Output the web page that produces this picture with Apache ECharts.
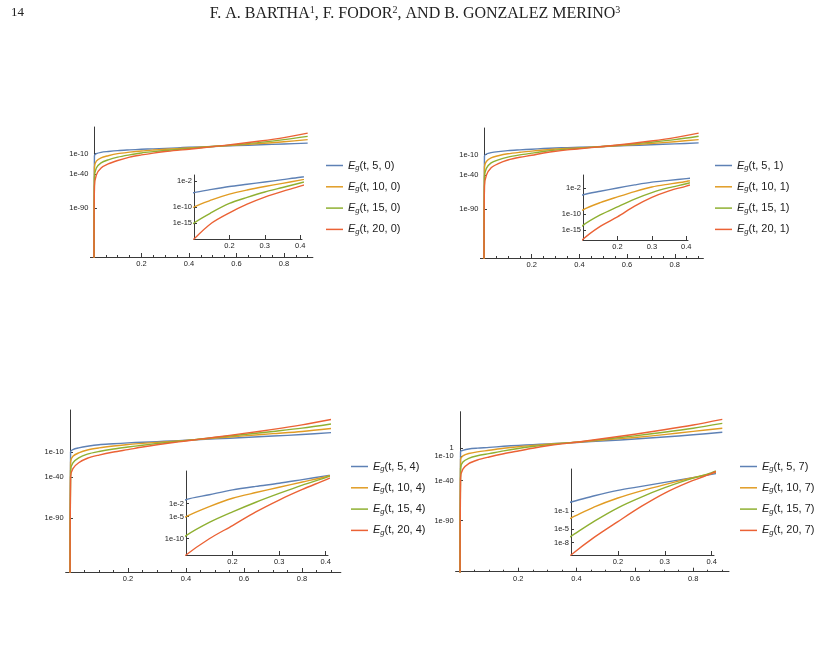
<!DOCTYPE html>
<html>
<head>
<meta charset="utf-8">
<script src="https://cdn.jsdelivr.net/npm/echarts@6/dist/echarts.min.js"></script>
<style>
  * { margin: 0; padding: 0; }
  body { background: #fff; }
</style>
</head>
<body>
<div id="main" style="width: 818px;height: 672px;"></div>
<script>
// t values shared by every curve
var ts = [0, 0.002, 0.01, 0.03, 0.06, 0.1, 0.15, 0.2, 0.25, 0.3, 0.35, 0.4, 0.5, 0.6, 0.7, 0.8, 0.9];

// curves as log10 of E_g(t, n, k) (-200 stands for "drops to 0")
var eg5_0  = [-200, -13, -10, -8, -6.8, -5.5, -4.5, -3.6, -2.9, -2.2, -1.45, -0.7, 0.6, 1.8, 3, 4.2, 5.5];
var eg10_0 = [-200, -30, -21, -16, -13, -10, -7.8, -6, -4.7, -3.6, -2.6, -1.6, 0.5, 2.5, 4.8, 7.4, 10.5];
var eg15_0 = [-200, -45, -31, -23.5, -19, -15, -11.7, -8.9, -7, -5.3, -3.9, -2.5, 0.4, 3.3, 6.5, 10.5, 15.3];
var eg20_0 = [-200, -58, -41, -31, -25, -20, -15, -11.8, -9.1, -6.9, -5.1, -3.5, 0.3, 4.2, 8.5, 13.5, 20];

var eg5_1  = [-200, -12, -9, -7, -5.5, -4.1, -3, -2, -1.05, -0.2, 0.35, 0.9, 2, 3.2, 4.5, 5.8, 7.2];
var eg10_1 = [-200, -28, -20, -14.5, -11.5, -8.7, -6.5, -4.75, -3.1, -1.7, -0.8, 0, 2, 4, 6.3, 9, 12];
var eg15_1 = [-200, -43, -30, -22, -17.5, -13.5, -10.3, -7.8, -5.4, -3.4, -1.9, -0.7, 2, 4.9, 8.2, 12, 17];
var eg20_1 = [-200, -56, -40, -29, -23, -17.8, -13.8, -10.9, -7.6, -4.9, -2.9, -1.4, 2, 5.7, 10, 15, 21.5];

var eg5_4  = [-200, -9.6, -7, -5, -3, -1.1, 0, 1.1, 1.9, 2.6, 3.45, 4.3, 6, 7.6, 9.4, 11.2, 13.5];
var eg10_4 = [-200, -22, -15, -11, -7.5, -5, -2.7, -0.8, 0.5, 1.7, 2.9, 4.1, 7, 9.6, 12.3, 15, 18.5];
var eg15_4 = [-200, -32, -23, -17, -12.5, -9.3, -6.3, -3.9, -1.7, 0.3, 2.2, 3.9, 7.6, 11.2, 15, 19, 24];
var eg20_4 = [-200, -40, -30, -23, -17.5, -13.7, -10, -7, -3.9, -1.2, 1.2, 3.4, 8, 12.6, 17.5, 23, 29.5];

var eg5_7  = [-200, -4, -2.5, -0.8, 0.2, 1.1, 2.5, 3.7, 4.6, 5.5, 6.4, 7.3, 9.3, 11.5, 14, 16.8, 20];
var eg10_7 = [-200, -13.6, -9.5, -6.5, -4.4, -2.5, 0, 2, 3.6, 5, 6.3, 7.5, 10.5, 13.5, 17, 21, 25];
var eg15_7 = [-200, -24.7, -17, -12.5, -9.3, -6.6, -3.2, -0.2, 2.2, 4.3, 6.1, 7.7, 11.5, 15.5, 20, 25, 31];
var eg20_7 = [-200, -37, -26, -19, -14.5, -10.8, -6.8, -3.3, 0.1, 3.1, 5.5, 7.5, 12.5, 17.5, 23, 29, 36];

// tick labels
var mainXLabels = [0.2, 0.4, 0.6, 0.8];
var mainXMinor = [0.05, 0.1, 0.15, 0.25, 0.3, 0.35, 0.45, 0.5, 0.55, 0.65, 0.7, 0.75, 0.85, 0.9];
var insetXLabels = [0.2, 0.3, 0.4];
var mainYLabels = [-10, -40, -90];
var mainYLabels7 = [0, -10, -40, -90];
var insetYLabels0 = [-2, -10, -15];
var insetYLabels1 = [-2, -10, -15];
var insetYLabels4 = [-2, -5, -10];
var insetYLabels7 = [-1, -5, -8];

var colors = ['#5E81B5', '#E19C24', '#8FB032', '#EB6235'];
var axisColor = '#3a3a3a';
var labelColor = '#222';
var sans = '"Liberation Sans", Arial, sans-serif';

var panels = [
  {k: '0', curves: [eg5_0, eg10_0, eg15_0, eg20_0],
   main: {left: 90.4, top: 127, width: 222.5, height: 130, xMax: 0.922, yMin: -161, yMax: 29, yLabels: mainYLabels},
   inset: {left: 194, top: 175, width: 108, height: 64, yMin: -20, yMax: 0, yLabels: insetYLabels0},
   legend: {left: 326, top: 160}},
  {k: '1', curves: [eg5_1, eg10_1, eg15_1, eg20_1],
   main: {left: 480.4, top: 128, width: 223, height: 130, xMax: 0.92, yMin: -161, yMax: 29, yLabels: mainYLabels},
   inset: {left: 583, top: 175, width: 105, height: 65, yMin: -18, yMax: 2, yLabels: insetYLabels1},
   legend: {left: 715, top: 160}},
  {k: '4', curves: [eg5_4, eg10_4, eg15_4, eg20_4],
   main: {left: 65.65, top: 410, width: 275.2, height: 162, xMax: 0.934, yMin: -155.5, yMax: 41, yLabels: mainYLabels},
   inset: {left: 186, top: 471, width: 142, height: 84, yMin: -13.7, yMax: 5.4, yLabels: insetYLabels4},
   legend: {left: 351, top: 461}},
  {k: '7', curves: [eg5_7, eg10_7, eg15_7, eg20_7],
   main: {left: 455.6, top: 411.7, width: 273.4, height: 160, xMax: 0.923, yMin: -153.4, yMax: 45.5, yLabels: mainYLabels7},
   inset: {left: 571, top: 469, width: 143, height: 86, yMin: -10.8, yMax: 8.5, yLabels: insetYLabels7},
   legend: {left: 740, top: 461}}
];
var ns = ['5', '10', '15', '20'];

function yFmt(v) {
  return v === 0 ? '1' : '1e' + v;
}

var grids = [], xAxes = [], yAxes = [], series = [], legends = [];

panels.forEach(function (p) {
  var names = ns.map(function (n) { return n + ', ' + p.k; });
  var pairs = p.curves.map(function (c) {
    return ts.map(function (t, i) { return [t, c[i]]; });
  });

  // main plot: grid, major x axis, minor x ticks, y axis
  var gMain = grids.length;
  grids.push({left: p.main.left, top: p.main.top, width: p.main.width, height: p.main.height});
  var xMajor = xAxes.length;
  xAxes.push({
    gridIndex: gMain, type: 'value', min: -0.015, max: p.main.xMax, position: 'bottom',
    axisLine: {onZero: false, lineStyle: {color: axisColor, width: 1}},
    axisTick: {customValues: mainXLabels, inside: true, length: 4, lineStyle: {color: axisColor}},
    axisLabel: {customValues: mainXLabels, fontSize: 7.5, color: labelColor, fontFamily: sans, margin: 3},
    splitLine: {show: false}
  });
  xAxes.push({
    gridIndex: gMain, type: 'value', min: -0.015, max: p.main.xMax, position: 'bottom',
    axisLine: {show: false, onZero: false},
    axisTick: {customValues: mainXMinor, inside: true, length: 2, lineStyle: {color: axisColor}},
    axisLabel: {show: false},
    splitLine: {show: false}
  });
  var yMain = yAxes.length;
  yAxes.push({
    gridIndex: gMain, type: 'value', min: p.main.yMin, max: p.main.yMax,
    axisLine: {show: true, onZero: true, onZeroAxisIndex: xMajor, lineStyle: {color: axisColor, width: 1}},
    axisTick: {show: true, customValues: p.main.yLabels, inside: true, length: 3, lineStyle: {color: axisColor}},
    axisLabel: {customValues: p.main.yLabels, formatter: yFmt, fontSize: 7.5, color: labelColor, fontFamily: sans, margin: 2},
    splitLine: {show: false}
  });

  // inset
  var gIn = grids.length;
  grids.push({left: p.inset.left, top: p.inset.top, width: p.inset.width, height: p.inset.height});
  var xIn = xAxes.length;
  xAxes.push({
    gridIndex: gIn, type: 'value', min: 0.1, max: 0.405, position: 'bottom',
    axisLine: {onZero: false, lineStyle: {color: axisColor, width: 1}},
    axisTick: {customValues: insetXLabels, inside: true, length: 4, lineStyle: {color: axisColor}},
    axisLabel: {customValues: insetXLabels, fontSize: 7.5, color: labelColor, fontFamily: sans, margin: 3},
    splitLine: {show: false}
  });
  var yIn = yAxes.length;
  yAxes.push({
    gridIndex: gIn, type: 'value', min: p.inset.yMin, max: p.inset.yMax,
    axisLine: {show: true, onZero: false, lineStyle: {color: axisColor, width: 1}},
    axisTick: {show: true, customValues: p.inset.yLabels, inside: true, length: 3, lineStyle: {color: axisColor}},
    axisLabel: {customValues: p.inset.yLabels, formatter: yFmt, fontSize: 7.5, color: labelColor, fontFamily: sans, margin: 2},
    splitLine: {show: false}
  });

  [[xMajor, yMain], [xIn, yIn]].forEach(function (ax) {
    pairs.forEach(function (d, i) {
      series.push({
        name: names[i], type: 'line', xAxisIndex: ax[0], yAxisIndex: ax[1],
        data: d, showSymbol: false, symbol: 'none', smooth: 0.3,
        clip: true, lineStyle: {color: colors[i], width: 1.4, join: 'round'}, itemStyle: {color: colors[i]}
      });
    });
  });

  legends.push({
    data: names, orient: 'vertical', left: p.legend.left, top: p.legend.top, padding: 0,
    icon: 'rect', itemWidth: 17, itemHeight: 1.5, itemGap: 9.3, selectedMode: false,
    formatter: function (name) { return '{e|E}{g|g}{n|(t, ' + name + ')}'; },
    textStyle: {
      color: labelColor, fontFamily: sans, fontSize: 11,
      rich: {
        e: {fontStyle: 'italic', fontSize: 11, fontFamily: sans, color: labelColor},
        g: {fontStyle: 'italic', fontSize: 7.5, fontFamily: sans, color: labelColor, padding: [5, 0, 0, 0]},
        n: {fontSize: 11, fontFamily: sans, color: labelColor}
      }
    }
  });
});

var chart = echarts.init(document.getElementById('main'));
chart.setOption({
  animation: false,
  backgroundColor: '#fff',
  grid: grids,
  xAxis: xAxes,
  yAxis: yAxes,
  legend: legends,
  series: series,
  graphic: [
    {type: 'text', left: 11, top: 6, style: {text: '14', font: '13px "Liberation Serif", serif', fill: '#222'}},
    {type: 'text', x: 415, y: 14, style: {
      text: 'F. A. BARTHA{s|1}, F. FODOR{s|2}, AND B. GONZALEZ MERINO{s|3}',
      font: '16px "Liberation Serif", serif', fill: '#222', align: 'center', verticalAlign: 'middle',
      rich: {s: {fontSize: 10, fontFamily: '"Liberation Serif", serif', padding: [0, 0, 7, 0]}}
    }}
  ]
});
</script>
</body>
</html>
